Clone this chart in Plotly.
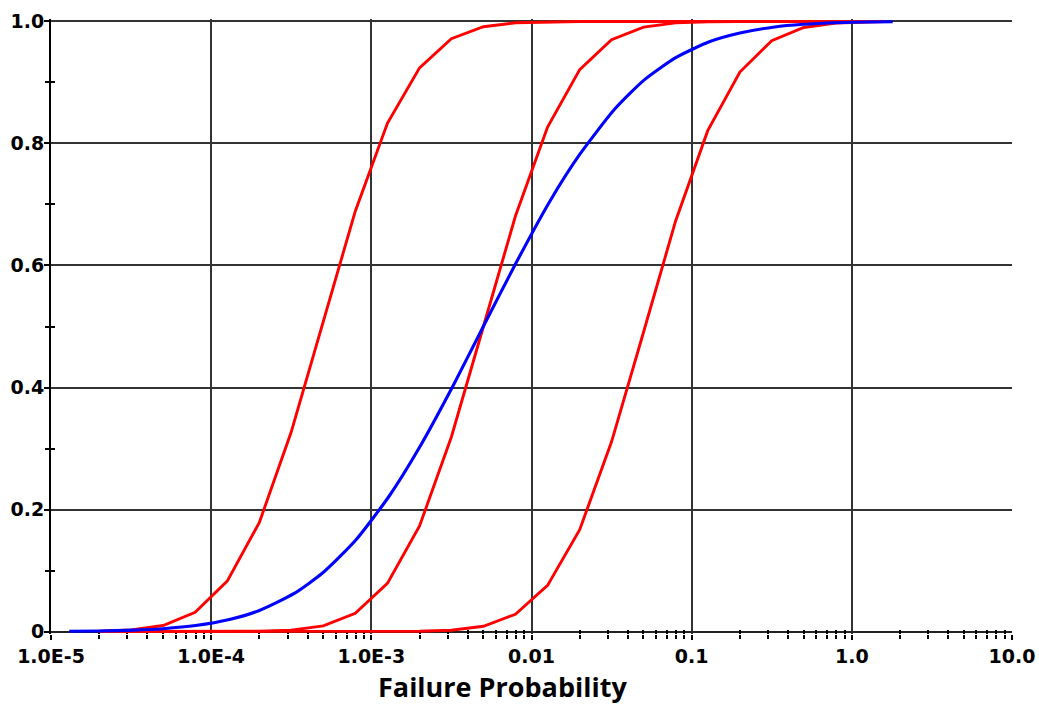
import plotly.graph_objects as go

# ---------------- data ----------------
red_x = [2.0e-5, 3.16e-5, 5.01e-5, 7.94e-5, 1.26e-4, 2.0e-4, 3.16e-4, 5.01e-4, 7.94e-4,
         1.26e-3, 2.0e-3, 3.16e-3, 5.01e-3, 7.94e-3, 1.26e-2, 2.0e-2, 3.16e-2, 5.01e-2,
         7.94e-2, 0.126, 0.2, 0.316, 0.501, 0.794, 1.26, 1.6]
red_low = [0.0005, 0.0026, 0.0099, 0.0315, 0.0826, 0.179, 0.327, 0.509, 0.689,
           0.833, 0.924, 0.9717, 0.9913, 0.9978, 0.9995, 1.0, 1.0, 1.0,
           1.0, 1.0, 1.0, 1.0, 1.0, 1.0, 1.0, 1.0]
red_mid = [0.0, 0.0, 0.0, 0.0, 0.0001, 0.0005, 0.0024, 0.0093, 0.0299,
           0.079, 0.173, 0.319, 0.5, 0.681, 0.827, 0.921, 0.970, 0.9907,
           0.9976, 0.9995, 1.0, 1.0, 1.0, 1.0, 1.0, 1.0]
red_high = [0.0, 0.0, 0.0, 0.0, 0.0, 0.0, 0.0, 0.0, 0.0,
            0.0001, 0.0005, 0.0022, 0.0087, 0.0283, 0.0756, 0.167, 0.311, 0.491,
            0.673, 0.821, 0.917, 0.9685, 0.9901, 0.9974, 0.9995, 1.0]

blue_x = [1.3e-5, 2e-5, 3.3e-5, 5e-5, 8e-5, 1.3e-4, 2e-4, 3.3e-4, 5e-4, 8e-4,
          1.3e-3, 2e-3, 3.3e-3, 5e-3, 8e-3, 1.3e-2, 2e-2, 3.3e-2, 5e-2, 8e-2,
          0.13, 0.2, 0.33, 0.5, 0.8, 1.3, 1.8]
blue_y = [0.0004, 0.0009, 0.0023, 0.0047, 0.0098, 0.0197, 0.0346, 0.0625, 0.0968, 0.150,
          0.223, 0.302, 0.407, 0.500, 0.604, 0.705, 0.782, 0.856, 0.903, 0.941,
          0.967, 0.981, 0.991, 0.9953, 0.9979, 0.9991, 0.9996]

x_major = [1e-5, 1e-4, 1e-3, 1e-2, 1e-1, 1.0, 10.0]
x_labels = ["1.0E-5", "1.0E-4", "1.0E-3", "0.01", "0.1", "1.0", "10.0"]
x_grid = [1e-4, 1e-3, 1e-2, 1e-1, 1.0]
y_major = [0, 0.2, 0.4, 0.6, 0.8, 1.0]
y_labels = ["0", "0.2", "0.4", "0.6", "0.8", "1.0"]
y_minor = [0.1, 0.3, 0.5, 0.7, 0.9]

# minor tick positions on the log axis (2..9 within each decade)
x_minor = [m * d for d in x_major[:-1] for m in range(2, 10)]

# ---------------- figure ----------------
RED = "#ff0000"
BLUE = "#0000ff"
GRID = "#333333"
tickfont = dict(family="DejaVu Sans", size=19, color="black", weight="bold")

fig = go.Figure()
for ys in (red_low, red_mid, red_high):
    fig.add_trace(go.Scatter(x=red_x, y=ys, mode="lines",
                             line=dict(color=RED, width=2.9), showlegend=False,
                             hoverinfo="skip"))
fig.add_trace(go.Scatter(x=blue_x, y=blue_y, mode="lines",
                         line=dict(color=BLUE, width=3.1, shape="spline", smoothing=0.6),
                         showlegend=False, hoverinfo="skip"))

yr = [-0.004, 1.004]
xr = [-5, 1]

fig.update_layout(
    width=1039, height=706,
    margin=dict(l=51, r=27, t=19, b=72, autoexpand=False),
    paper_bgcolor="white", plot_bgcolor="white",
    showlegend=False,
    xaxis=dict(
        type="log", range=xr, tickmode="array", tickvals=x_major, ticktext=x_labels,
        ticks="outside", ticklen=5, tickwidth=2, tickcolor="black",
        showgrid=False, showline=False, zeroline=False, tickfont=tickfont,
        automargin=False,
        minor=dict(tickmode="array", tickvals=x_minor, ticks="outside",
                   ticklen=4, tickwidth=1.5, tickcolor="black", showgrid=False),
        layer="below traces",
    ),
    xaxis2=dict(
        type="log", range=xr, overlaying="x", anchor="y", side="bottom",
        tickmode="array", tickvals=x_grid, showticklabels=False, ticks="",
        showgrid=True, gridcolor=GRID, gridwidth=1.9, showline=False, zeroline=False,
        automargin=False,
        minor=dict(tickmode="array", tickvals=x_minor, ticks="inside",
                   ticklen=4, tickwidth=1.5, tickcolor="black", showgrid=False),
        layer="below traces",
    ),
    yaxis=dict(
        range=yr, tickmode="array", tickvals=y_major, ticktext=y_labels,
        ticks="outside", ticklen=5, tickwidth=2, tickcolor="black",
        showline=True, linecolor="black", linewidth=2,
        showgrid=True, gridcolor=GRID, gridwidth=1.9,
        zeroline=True, zerolinecolor="#222222", zerolinewidth=2,
        tickfont=tickfont, automargin=False, ticklabelstandoff=-4,
        minor=dict(tickmode="array", tickvals=y_minor, ticks="outside",
                   ticklen=4, tickwidth=1.5, tickcolor="black", showgrid=False),
    ),
    yaxis2=dict(
        range=yr, overlaying="y", anchor="x", side="left",
        tickmode="array", tickvals=y_minor, showticklabels=False,
        ticks="inside", ticklen=4, tickwidth=1.5, tickcolor="black",
        showgrid=False, zeroline=False, showline=False, automargin=False,
    ),
)

# invisible helper traces so the overlay axes are drawn
fig.add_trace(go.Scatter(x=[1e-5], y=[0], xaxis="x2", yaxis="y", mode="markers",
                         marker=dict(opacity=0), showlegend=False, hoverinfo="skip"))
fig.add_trace(go.Scatter(x=[1e-5], y=[0], xaxis="x", yaxis="y2", mode="markers",
                         marker=dict(opacity=0), showlegend=False, hoverinfo="skip"))

fig.add_annotation(
    text="Failure Probability", xref="paper", yref="paper",
    x=0.4703, y=-0.086, xanchor="center", yanchor="middle", showarrow=False,
    font=dict(family="Open Sans", size=27, color="black", weight="bold"),
)

fig.write_html(
    "out.html",
    config={"displayModeBar": False},
    post_script="document.body.style.margin='0';document.body.style.overflow='hidden';",
)
